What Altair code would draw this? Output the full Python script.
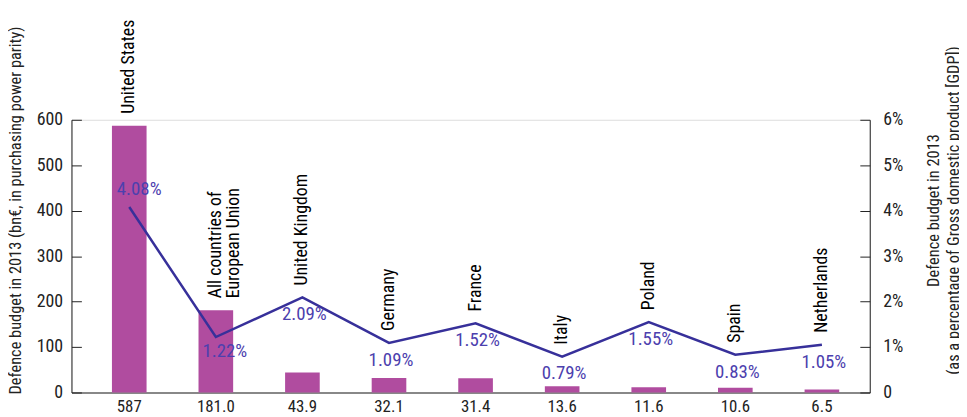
import altair as alt
import pandas as pd

countries = ["United States", "All countries of\nEuropean Union", "United Kingdom", "Germany",
             "France", "Italy", "Poland", "Spain", "Netherlands"]
budget_labels = ["587", "181.0", "43.9", "32.1", "31.4", "13.6", "11.6", "10.6", "6.5"]
budget = [587, 181.0, 43.9, 32.1, 31.4, 13.6, 11.6, 10.6, 6.5]
gdp_pct = [4.08, 1.22, 2.09, 1.09, 1.52, 0.79, 1.55, 0.83, 1.05]
left_ticks = [0, 100, 200, 300, 400, 500, 600]

df = pd.DataFrame({
    "country": countries,
    "blabel": budget_labels,
    "budget": budget,
    "pct": gdp_pct,
})

FONT = "Liberation Sans Narrow, Arial Narrow, Roboto Condensed, DejaVu Sans Condensed, sans-serif"
BAR = "#b04c9f"
LINE = "#37309a"
PTXT = "#4c40ae"
W, H = 805, 275

base = alt.Chart(df).transform_calculate(
    pct_s="datum.pct * 100",
    anchor="max(datum.budget, datum.pct * 100)",
    plabel="format(datum.pct, '.2f') + '%'",
)

xenc = alt.X("blabel:N", sort=budget_labels,
             scale=alt.Scale(paddingInner=0.6, paddingOuter=0.41, align=0.57),
             axis=alt.Axis(title=None, ticks=False, tickSize=0, labelPadding=6, labelAngle=0,
                           labelFontSize=17, labelFont=FONT, labelColor="#222",
                           domainColor="#666", domainWidth=1.5))

yscale = alt.Scale(domain=[0, 600], nice=False, zero=True)

bars = base.mark_bar(color=BAR).encode(
    x=xenc,
    y=alt.Y("budget:Q", scale=yscale,
            axis=alt.Axis(orient="left", values=left_ticks, ticks=False, tickSize=0, labelPadding=9,
                          grid=False, labelFontSize=18, labelFont=FONT, labelColor="#222",
                          domainColor="#222", domainWidth=1,
                          title="Defence budget in 2013 (bn€, in purchasing power parity)",
                          titleFont=FONT, titleFontSize=16.5, titleFontWeight="normal", titleColor="#222",
                          titleAngle=270, titleAlign="center", titleBaseline="middle",
                          titleX=-56, titleY=91)),
)

line = base.mark_line(color=LINE, strokeWidth=2.5).encode(
    x=alt.X("blabel:N", sort=budget_labels),
    y=alt.Y("pct_s:Q", scale=yscale,
            axis=alt.Axis(orient="right", values=left_ticks, ticks=False, tickSize=0, labelPadding=13,
                          grid=False, labelFontSize=18, labelFont=FONT, labelColor="#222",
                          labelExpr="datum.value == 0 ? '0' : (datum.value / 100) + '%'",
                          domainColor="#222", domainWidth=1,
                          title=["Defence budget in 2013",
                                 "(as a percentage of Gross domestic product [GDP])"],
                          titleFont=FONT, titleFontSize=16.5, titleFontWeight="normal", titleColor="#222",
                          titleAngle=270, titleAlign="center", titleBaseline="middle",
                          titleX=64, titleY=91, titleLineHeight=21)),
)

names = base.mark_text(angle=270, align="left", baseline="middle", dx=12, fontSize=18,
                       font=FONT, color="#000", lineBreak="\n", lineHeight=18).encode(
    x=alt.X("blabel:N", sort=budget_labels),
    y=alt.Y("anchor:Q", scale=yscale,
            axis=alt.Axis(orient="right", offset=-W, values=left_ticks, domain=False, labels=False,
                          ticks=True, tickSize=10, tickColor="#222", grid=False, title=None)),
    text="country:N",
)

plabels = base.transform_filter("datum.blabel != '587' && datum.blabel != '181.0'").mark_text(
    align="center", baseline="middle", dx=2, dy=17, fontSize=19, font=FONT, color=PTXT).encode(
    x=alt.X("blabel:N", sort=budget_labels),
    y=alt.Y("pct_s:Q", scale=yscale,
            axis=alt.Axis(orient="left", offset=-W, values=left_ticks, domain=False, labels=False,
                          ticks=True, tickSize=10, tickColor="#222", grid=False, title=None)),
    text="plabel:N",
)

plabel_us = base.transform_filter("datum.blabel == '587'").mark_text(
    align="center", baseline="middle", dx=10, dy=-18, fontSize=19, font=FONT, color=PTXT).encode(
    x=alt.X("blabel:N", sort=budget_labels),
    y=alt.Y("pct_s:Q", scale=yscale, axis=None),
    text="plabel:N",
)

plabel_eu = base.transform_filter("datum.blabel == '181.0'").mark_text(
    align="center", baseline="middle", dx=9, dy=14, fontSize=19, font=FONT, color=PTXT).encode(
    x=alt.X("blabel:N", sort=budget_labels),
    y=alt.Y("pct_s:Q", scale=yscale, axis=None),
    text="plabel:N",
)

chart = alt.layer(bars, line, names, plabels, plabel_us, plabel_eu).resolve_axis(
    y="independent"
).properties(
    width=W, height=H,
    autosize=alt.AutoSizeParams(type="none"),
    padding={"left": 64, "top": 111, "right": 90, "bottom": 23},
).configure_view(stroke=None).configure(background="white")

chart.save("out.html", embed_options={"renderer": "svg", "actions": False})
